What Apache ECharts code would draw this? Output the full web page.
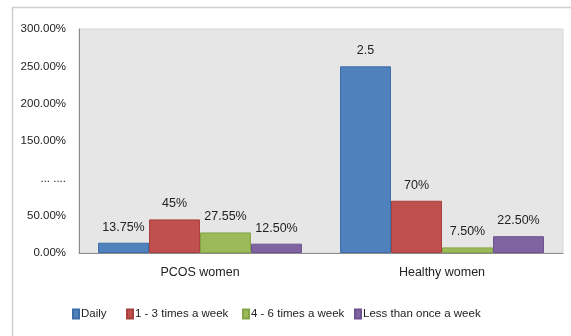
<!DOCTYPE html>
<html><head><meta charset="utf-8">
<script src="https://cdn.jsdelivr.net/npm/echarts@6/dist/echarts.min.js"></script>
<style>html,body{margin:0;padding:0;background:#fff}#c{width:571px;height:336px}</style>
</head><body><div id="c"></div>
<script>
const categories = ['PCOS women', 'Healthy women'];
const seriesNames = ['Daily', '1 - 3 times a week', '4 - 6 times a week', 'Less than once a week'];
const daily = [0.1375, 2.5];
const times1to3 = [0.45, 0.70];
const times4to6 = [0.2755, 0.075];
const lessThanOnce = [0.125, 0.225];
const dailyLabels = ['13.75%', '2.5'];
const times1to3Labels = ['45%', '70%'];
const times4to6Labels = ['27.55%', '7.50%'];
const lessThanOnceLabels = ['12.50%', '22.50%'];
const yTickLabels = ['0.00%', '50.00%', '... ....', '150.00%', '200.00%', '250.00%', '300.00%'];

const FONT = '"Liberation Sans",Arial,sans-serif';
const colors = ['#4f81bd', '#c0504d', '#9bbb59', '#8064a2'];
const borders = ['#3d6ea8', '#a8403d', '#84a448', '#6c5290'];
const values = [daily, times1to3, times4to6, lessThanOnce];
const labels = [dailyLabels, times1to3Labels, times4to6Labels, lessThanOnceLabels];
const legendLeft = [72, 126, 242, 354];

const chart = echarts.init(document.getElementById('c'));
chart.setOption({
  animation: false,
  backgroundColor: '#fff',
  graphic: [{
    type: 'rect', shape: {x: 12.5, y: 7.5, width: 600, height: 400},
    style: {fill: 'none', stroke: '#cfcfcf', lineWidth: 1.5}, silent: true, z: -1
  }],
  grid: {left: 79, right: 8, top: 29, bottom: 83, show: true, backgroundColor: '#e6e6e6', borderColor: '#d6d6d6', borderWidth: 1},
  legend: seriesNames.map((n, i) => ({
    data: [n], left: legendLeft[i], top: 308, padding: 0, itemWidth: 6, itemHeight: 9, icon: 'rect',
    itemGap: 0, textStyle: {fontFamily: FONT, fontSize: 11.5, color: '#222', padding: [0, 0, 0, -3]}
  })),
  xAxis: {
    type: 'category', data: categories,
    axisLine: {lineStyle: {color: '#8c8c8c'}}, axisTick: {show: false},
    axisLabel: {fontFamily: FONT, fontSize: 12.5, color: '#222', margin: 13}
  },
  yAxis: {
    type: 'value', min: 0, max: 3, interval: 0.5,
    axisLine: {show: true, lineStyle: {color: '#8c8c8c'}}, axisTick: {show: false},
    splitLine: {show: false},
    axisLabel: {fontFamily: FONT, fontSize: 11.5, color: '#222', margin: 13,
      formatter: (v) => yTickLabels[Math.round(v / 0.5)]}
  },
  series: seriesNames.map((n, i) => ({
    name: n, type: 'bar', data: values[i], barWidth: 51, barGap: '0%',
    itemStyle: {color: colors[i], borderColor: borders[i], borderWidth: 1},
    label: {show: true, position: 'top', distance: 9, fontFamily: FONT, fontSize: 12.5, color: '#222',
      formatter: (p) => labels[i][p.dataIndex]}
  }))
});
</script></body></html>
